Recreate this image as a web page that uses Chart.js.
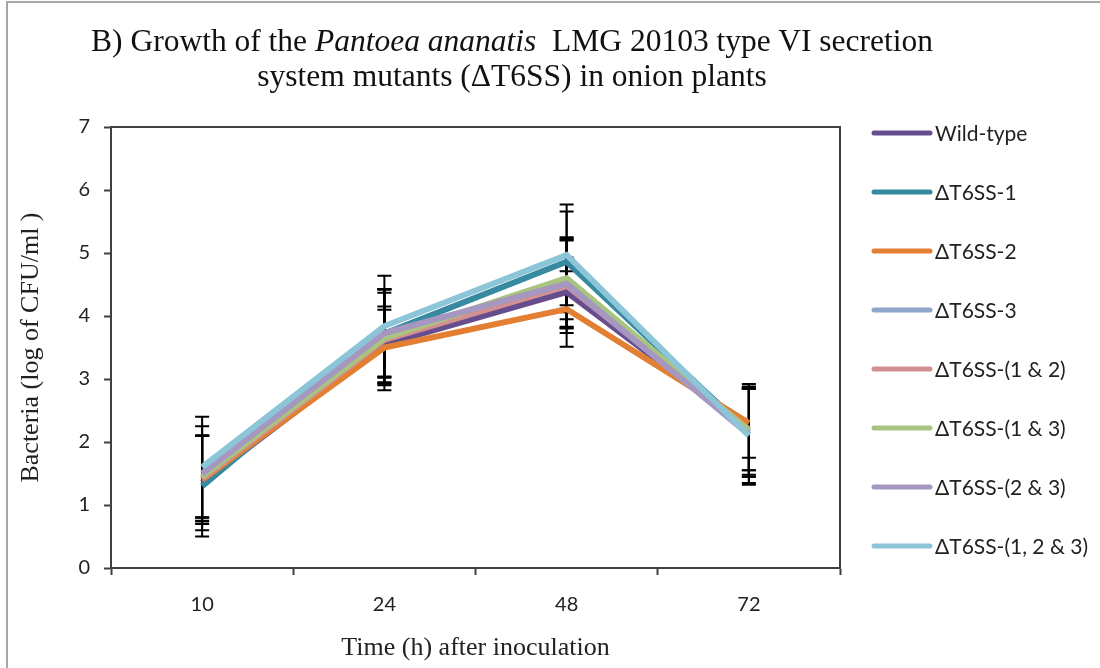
<!DOCTYPE html>
<html>
<head>
<meta charset="utf-8">
<script src="https://cdn.jsdelivr.net/npm/chart.js@4"></script>
<style>
  body { margin: 0; background: #fff; }
  #frame { position: absolute; left: 6px; top: 1px; width: 1200px; height: 800px;
           border-left: 2px solid #a6a6a6; border-top: 2px solid #a6a6a6; }
  #title { position: absolute; left: 0; top: 23px; width: 1024px; text-align: center;
           font-family: "Liberation Serif", serif; font-size: 31.5px; line-height: 35px; color: #111; }
  #wrap { position: absolute; left: 0; top: 0; }
</style>
</head>
<body>
<div id="frame"></div>
<div id="wrap"><canvas id="growthChart" width="1100" height="668"></canvas></div>
<div id="title">B) Growth of the <i>Pantoea ananatis</i>&nbsp; LMG 20103 type VI secretion<br>system mutants (&Delta;T6SS) in onion plants</div>
<script>
// time points (h)
const hours = ['10', '24', '48', '72'];
const yTicks = [0, 1, 2, 3, 4, 5, 6, 7];

const seriesNames = ['Wild-type', 'ΔT6SS-1', 'ΔT6SS-2', 'ΔT6SS-3',
  'ΔT6SS-(1 & 2)', 'ΔT6SS-(1 & 3)', 'ΔT6SS-(2 & 3)', 'ΔT6SS-(1, 2 & 3)'];

// mean log CFU/ml
const wildType = [1.35, 3.55, 4.38, 2.20];
const t6ss1 = [1.30, 3.72, 4.86, 2.15];
const t6ss2 = [1.40, 3.50, 4.11, 2.30];
const t6ss3 = [1.45, 3.68, 4.50, 2.15];
const t6ss12 = [1.42, 3.62, 4.48, 2.20];
const t6ss13 = [1.45, 3.65, 4.60, 2.18];
const t6ss23 = [1.50, 3.73, 4.51, 2.12];
const t6ss123 = [1.60, 3.84, 4.97, 2.10];

// error bar half-lengths
const errWildType = [0.75, 0.60, 0.55, 0.65];
const err1 = [0.80, 0.70, 0.80, 0.70];
const err2 = [0.70, 0.60, 0.60, 0.55];
const err3 = [0.65, 0.75, 0.70, 0.70];
const err12 = [0.68, 0.80, 0.75, 0.65];
const err13 = [0.65, 0.72, 0.65, 0.70];
const err23 = [0.75, 0.70, 0.70, 0.80];
const err123 = [0.80, 0.80, 0.80, 0.75];

const colors = ['#664e8e', '#3789a0', '#e27f32', '#8fa6cc', '#d49090', '#a8c47e', '#a597c0', '#8cc4d8'];

const means = [wildType, t6ss1, t6ss2, t6ss3, t6ss12, t6ss13, t6ss23, t6ss123];
const errors = [errWildType, err1, err2, err3, err12, err13, err23, err123];

const axisColor = '#404040';
const textColor = '#222';

const datasets = means.map((vals, i) => ({
  label: seriesNames[i],
  data: vals,
  err: errors[i],
  borderColor: colors[i],
  backgroundColor: colors[i],
  borderWidth: 6,
  pointRadius: 0,
  tension: 0,
  order: means.length - 1 - i
}));

// black error bars, drawn under the lines
const errorBars = {
  id: 'errorBars',
  beforeDatasetsDraw(chart) {
    const ctx = chart.ctx;
    const x = chart.scales.x, y = chart.scales.y;
    ctx.save();
    ctx.strokeStyle = '#000';
    ctx.lineWidth = 2;
    chart.data.datasets.forEach(ds => {
      ds.data.forEach((v, j) => {
        const px = x.getPixelForValue(j);
        const top = y.getPixelForValue(v + ds.err[j]);
        const bot = y.getPixelForValue(v - ds.err[j]);
        ctx.beginPath();
        ctx.moveTo(px, top); ctx.lineTo(px, bot);
        ctx.moveTo(px - 7, top); ctx.lineTo(px + 7, top);
        ctx.moveTo(px - 7, bot); ctx.lineTo(px + 7, bot);
        ctx.stroke();
      });
    });
    ctx.restore();
  }
};

// box round the plot area
const plotBox = {
  id: 'plotBox',
  beforeDatasetsDraw(chart) {
    const { ctx, chartArea: a } = chart;
    ctx.save();
    ctx.strokeStyle = axisColor;
    ctx.lineWidth = 2;
    ctx.strokeRect(a.left, a.top, a.right - a.left, a.bottom - a.top);
    ctx.restore();
  }
};

// legend on the right, one line per series
const sideLegend = {
  id: 'sideLegend',
  afterDraw(chart) {
    const { ctx, chartArea: a } = chart;
    ctx.save();
    ctx.font = '21px Lato';
    ctx.textBaseline = 'middle';
    chart.data.datasets.forEach((ds, i) => {
      const y = 133 + i * 59;
      const x0 = a.right + 34;
      ctx.strokeStyle = ds.borderColor;
      ctx.lineWidth = 5;
      ctx.lineCap = 'round';
      ctx.beginPath();
      ctx.moveTo(x0, y); ctx.lineTo(x0 + 56, y);
      ctx.stroke();
      ctx.fillStyle = textColor;
      ctx.fillText(ds.label, x0 + 61, y + 1);
    });
    ctx.restore();
  }
};

new Chart(document.getElementById('growthChart'), {
  type: 'line',
  data: { labels: hours, datasets: datasets },
  options: {
    responsive: false,
    animation: false,
    layout: { padding: { top: 127, right: 260, left: 0, bottom: 0 } },
    plugins: { legend: { display: false }, tooltip: { enabled: false } },
    scales: {
      x: {
        type: 'category',
        offset: true,
        afterFit(scale) { scale.height = 100; },
        grid: { offset: true, drawOnChartArea: false, drawTicks: true, tickLength: 7, tickWidth: 2, tickColor: axisColor },
        border: { display: true, color: axisColor, width: 2 },
        ticks: { color: textColor, font: { family: 'Lato', size: 20 }, padding: 18 },
        title: { display: true, text: 'Time (h) after inoculation', color: textColor,
                 font: { family: 'Liberation Serif', size: 26 }, padding: { top: 0, bottom: 4 } }
      },
      y: {
        min: 0,
        max: 7,
        afterFit(scale) { scale.width = 111; },
        afterBuildTicks(scale) { scale.ticks = yTicks.map(v => ({ value: v })); },
        grid: { drawOnChartArea: false, drawTicks: true, tickLength: 7, tickWidth: 2, tickColor: axisColor },
        border: { display: true, color: axisColor, width: 2 },
        ticks: { color: textColor, font: { family: 'Lato', size: 20 }, padding: 14 },
        title: { display: true, text: 'Bacteria (log of CFU/ml )', color: textColor,
                 font: { family: 'Liberation Serif', size: 26 }, padding: { top: 16, bottom: 0 } }
      }
    }
  },
  plugins: [errorBars, plotBox, sideLegend]
});
</script>
</body>
</html>
